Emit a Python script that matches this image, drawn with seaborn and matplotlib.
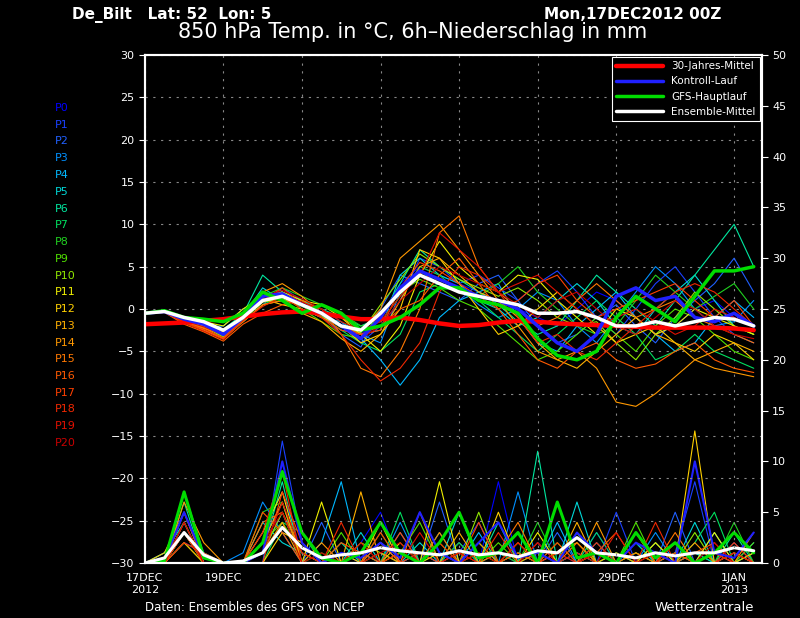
import numpy as np
import pandas as pd
import matplotlib
matplotlib.use("Agg")
import matplotlib.pyplot as plt
import seaborn as sns

# time axis: days after 17DEC2012 00Z, 12-hourly
days = [i * 0.5 for i in range(32)]

climate_temp = [-1.8, -1.7, -1.6, -1.4, -1.2, -0.9, -0.6, -0.4, -0.3, -0.5, -0.9, -1.2, -1.2, -1.0, -1.3, -1.7,
                -2.0, -1.9, -1.6, -1.4, -1.5, -1.7, -1.8, -1.9, -2.0, -2.1, -2.2, -2.2, -2.2, -2.2, -2.3, -2.5]
mean_temp = [-0.5, -0.3, -1.0, -1.5, -2.5, -1.0, 1.0, 1.5, 0.5, -0.5, -2.0, -2.5, -0.5, 2.0, 4.0, 3.0,
             2.0, 1.5, 1.0, 0.5, -0.5, -0.5, -0.3, -1.0, -2.0, -2.0, -1.5, -2.0, -1.5, -1.0, -1.2, -2.0]
gfs_temp = [-0.5, -0.2, -1.0, -1.2, -1.5, -0.5, 2.0, 1.0, -0.5, 0.5, -0.5, -2.5, -2.0, -1.0, 0.5, 2.5,
            2.5, 1.0, 0.5, -0.5, -3.5, -5.5, -6.0, -5.0, -1.0, 1.5, 0.0, -1.5, 1.5, 4.5, 4.5, 5.0]
control_temp = [-0.5, -0.3, -1.2, -1.8, -3.0, -1.0, 1.5, 1.8, 0.5, -0.5, -2.0, -3.5, -1.0, 2.5, 4.5, 3.5,
                2.5, 1.5, 1.0, 0.0, -2.0, -4.0, -5.0, -3.0, 1.5, 2.5, 1.0, 1.5, -1.0, -1.5, -0.5, -2.0]

member_temp = {
    "P0": [-0.5, -0.3, -1.5, -2.0, -3.0, -1.0, 1.5, 2.0, 0.0, -1.0, -2.0, -3.0, -1.0, 3.0, 5.0, 4.0, 3.0, 2.0, 1.0, 0.0, -1.0, -2.0, 0.0, 2.0, 1.0, -1.0, -3.0, -2.0, 0.0, 1.0, -1.0, -2.0],
    "P1": [-0.6, -0.2, -1.2, -2.5, -3.5, -0.5, 2.0, 1.0, 1.0, 0.0, -1.5, -4.0, -2.0, 1.0, 6.0, 5.0, 3.0, 4.0, 2.5, 1.0, 3.0, 4.5, 2.0, -1.0, -3.0, 0.0, 3.0, 5.0, 2.0, -1.0, -3.0, -4.0],
    "P2": [-0.4, -0.4, -1.0, -2.0, -2.5, -1.5, 0.5, 2.5, 1.0, -0.5, -3.0, -4.5, 0.0, 4.0, 3.0, 2.0, 1.0, 3.0, 4.0, 1.0, -2.0, -4.0, -3.0, -1.0, 0.5, -2.0, -4.0, -1.0, 1.0, 3.0, 6.0, 2.0],
    "P3": [-0.5, -0.1, -1.5, -2.2, -2.0, 0.0, 1.0, 2.0, 0.0, -1.0, -2.5, -3.0, -4.0, 2.0, 4.5, 3.0, 2.5, 0.5, -1.0, 0.0, 2.0, 1.0, -2.0, -4.0, -1.0, 2.0, 5.0, 3.0, 0.0, -2.0, -1.5, 1.0],
    "P4": [-0.5, -0.3, -1.3, -1.8, -2.8, -1.2, 1.0, 1.5, 0.5, -0.5, -2.0, -3.5, -6.0, -9.0, -6.0, -1.0, 1.0, 2.0, 3.0, -1.0, -4.0, -5.0, -2.0, 0.0, 2.0, -1.0, -3.0, -5.0, -4.0, -1.0, 1.0, -1.0],
    "P5": [-0.6, -0.2, -1.4, -2.0, -3.2, -0.8, 2.5, 1.0, 0.5, -1.0, -1.5, -3.0, -2.5, 4.0, 6.0, 4.0, 3.0, 1.0, 0.0, -2.0, -1.0, 1.0, 3.0, 1.0, -2.0, -3.0, 0.0, 2.0, 4.0, 1.0, -2.0, -3.0],
    "P6": [-0.5, -0.3, -1.1, -1.6, -2.4, -0.6, 4.0, 2.0, 1.0, 0.0, -1.0, -2.0, -1.0, 3.0, 7.0, 5.0, 3.5, 2.0, 0.5, -1.5, -3.0, -2.0, 1.0, 4.0, 2.0, 0.0, -2.0, 1.0, 4.0, 7.0, 10.0, 5.0],
    "P7": [-0.4, -0.3, -1.2, -1.7, -3.5, -1.5, 0.5, 1.5, 0.5, -1.0, -2.5, -4.0, -5.0, -3.0, 2.0, 3.0, 2.0, 1.0, -1.0, -3.0, -5.0, -3.0, -1.0, 1.0, -1.0, -3.0, -6.0, -5.0, -3.0, -5.0, -6.0, -7.0],
    "P8": [-0.5, -0.2, -1.3, -1.9, -3.0, -1.0, 1.5, 2.5, 1.5, 0.5, -0.5, -2.0, -1.5, 1.5, 5.0, 4.0, 2.0, 1.5, 3.0, 5.0, 2.0, 0.0, -2.0, -3.0, -2.0, 1.0, 4.0, 2.0, 0.0, 1.5, 3.0, 0.0],
    "P9": [-0.5, -0.3, -1.2, -1.8, -2.6, -1.0, 1.0, 1.5, 0.0, -1.5, -3.0, -3.5, -0.5, 2.0, 3.5, 2.5, 1.0, 0.0, -2.0, -4.0, -6.0, -5.0, -3.0, -1.0, -3.0, -5.0, -2.0, 0.0, -1.0, -3.0, -5.0, -6.0],
    "P10": [-0.6, -0.3, -1.4, -2.1, -3.3, -1.3, 0.8, 1.2, 0.3, -0.8, -2.2, -2.8, 0.5, 3.5, 6.5, 5.0, 3.5, 2.5, 1.5, 2.5, 1.0, -1.0, -2.0, -1.5, -4.0, -6.0, -3.0, -1.0, 2.0, 0.0, -2.0, -3.0],
    "P11": [-0.5, -0.2, -1.0, -1.5, -2.0, 0.0, 1.5, 2.0, 1.0, 0.5, -1.0, -3.0, -5.0, -2.0, 4.0, 8.0, 5.0, 3.0, 2.0, 4.0, 3.5, 1.0, -1.0, -3.0, 0.0, -1.0, -3.0, -2.0, 0.0, -1.0, -2.0, -3.0],
    "P12": [-0.5, -0.4, -1.3, -2.0, -2.7, -1.0, 1.2, 0.5, 0.0, -1.0, -2.0, -4.0, -3.0, 0.0, 7.0, 6.0, 3.0, 0.0, -3.0, -2.0, 0.0, 2.0, 0.0, -2.0, -4.0, -3.0, -2.0, -4.0, -5.0, -3.0, -4.0, -6.0],
    "P13": [-0.5, -0.3, -1.5, -2.3, -3.0, -1.5, 0.5, 1.0, -0.5, -1.5, -3.5, -5.0, -3.0, 1.0, 5.0, 6.0, 4.0, 2.0, 1.0, -1.0, -4.0, -6.0, -7.0, -5.0, -3.0, -1.0, -3.0, -4.0, -6.0, -5.0, -4.0, -5.0],
    "P14": [-0.6, -0.3, -1.6, -2.5, -3.5, -0.5, 2.0, 3.0, 1.5, -0.5, -1.0, -2.5, 0.0, 6.0, 8.0, 10.0, 7.0, 4.0, 1.0, -2.0, -5.0, -6.0, -5.0, -7.0, -11.0, -11.5, -10.0, -8.0, -6.0, -7.0, -7.5, -8.0],
    "P15": [-0.5, -0.3, -1.4, -2.2, -3.5, -1.5, 0.5, 1.0, 0.5, 0.0, -3.0, -7.0, -8.0, -5.0, 0.0, 9.0, 11.0, 5.0, 2.0, 0.0, -2.0, -1.0, 1.0, 3.0, 1.0, -1.0, 0.0, 1.0, -1.0, -2.0, -3.0, -4.0],
    "P16": [-0.5, -0.4, -1.8, -2.7, -3.8, -1.8, -0.5, 0.5, 1.0, -0.5, -2.0, -3.0, -2.0, 0.0, 1.0, 4.0, 6.0, 3.0, 0.0, -3.0, -6.0, -7.0, -5.0, -4.0, -6.0, -7.0, -6.5, -5.0, -4.0, -6.0, -7.0, -7.5],
    "P17": [-0.5, -0.3, -1.5, -2.4, -3.4, -1.2, 1.0, 2.5, 0.5, -1.0, -2.5, -3.0, -2.5, 2.5, 5.5, 4.5, 3.0, 1.5, 0.0, 1.0, 3.0, 4.0, 1.0, -1.0, 0.0, 1.0, 2.0, 3.0, 1.0, -1.0, 1.0, -2.0],
    "P18": [-0.6, -0.4, -1.6, -2.6, -3.6, -1.4, 0.3, 1.5, 0.0, -1.0, -3.0, -6.0, -8.5, -7.0, -4.0, 2.0, 5.0, 4.0, 2.0, -1.0, -4.0, -3.0, -5.0, -6.0, -4.0, -2.0, 0.0, 2.0, 3.0, 2.0, 0.0, -2.0],
    "P19": [-0.5, -0.3, -1.4, -2.1, -3.1, -1.1, 1.1, 1.8, 0.8, 0.0, -1.5, -2.5, -1.5, 1.5, 4.0, 9.0, 7.0, 5.0, 2.0, 3.0, 4.0, 2.0, 0.0, -2.0, -1.0, 0.0, -1.5, -3.0, -2.0, 0.0, -1.0, -2.0],
    "P20": [-0.5, -0.2, -1.2, -1.9, -2.9, -0.9, 1.4, 2.2, 1.2, 0.0, -2.0, -3.5, -2.0, 1.0, 3.0, 5.0, 4.0, 3.0, 2.0, 0.5, -1.0, 1.0, 2.0, 0.0, -2.0, -3.0, -1.0, 1.0, 0.0, -2.0, -3.0, -3.5],
}

mean_prec = [0.0, 0.5, 3.0, 0.8, 0.0, 0.2, 1.0, 3.5, 1.5, 0.5, 0.8, 1.0, 1.5, 1.2, 1.0, 0.8,
             1.2, 0.8, 1.0, 0.6, 1.2, 1.0, 2.5, 1.0, 0.8, 0.5, 1.0, 0.7, 1.0, 1.0, 1.5, 1.2]
gfs_prec = [0.0, 0.2, 7.0, 0.5, 0.0, 0.0, 2.0, 9.0, 3.0, 0.5, 0.0, 1.0, 4.0, 1.0, 0.0, 2.0,
            5.0, 0.5, 1.0, 3.0, 0.0, 6.0, 0.5, 1.0, 0.0, 3.0, 0.5, 2.0, 0.0, 1.0, 3.0, 1.0]
control_prec = [0.0, 0.3, 5.0, 0.5, 0.0, 0.0, 1.0, 10.0, 2.0, 0.0, 1.0, 0.5, 2.0, 0.5, 5.0, 1.0,
                0.0, 2.0, 4.0, 0.5, 1.0, 0.0, 3.0, 1.0, 0.0, 2.0, 1.0, 0.0, 10.0, 1.0, 0.5, 3.0]
member_prec = {
    "P0": [0, 0, 4, 0, 0, 0, 3, 7, 1, 0, 0, 2, 5, 0, 1, 0, 2, 0, 8, 0, 0, 1, 0, 3, 0, 0, 2, 0, 0, 1, 0, 0],
    "P1": [0, 1, 3, 0, 0, 0, 0, 12, 2, 0, 1, 0, 0, 3, 0, 0, 1, 4, 0, 0, 2, 0, 0, 0, 5, 0, 0, 1, 8, 0, 2, 0],
    "P2": [0, 0, 2, 1, 0, 0, 1, 5, 0, 4, 0, 0, 2, 0, 0, 6, 0, 0, 1, 0, 0, 3, 0, 0, 0, 2, 0, 5, 0, 0, 1, 0],
    "P3": [0, 0, 5, 0, 0, 1, 6, 3, 0, 0, 0, 1, 0, 4, 0, 0, 2, 0, 0, 7, 0, 0, 1, 0, 0, 0, 3, 0, 1, 0, 0, 2],
    "P4": [0, 0, 3, 0, 0, 0, 2, 6, 0, 2, 8, 0, 0, 0, 1, 0, 0, 3, 0, 0, 0, 4, 0, 2, 0, 0, 0, 1, 0, 3, 0, 0],
    "P5": [0, 1, 4, 0, 0, 0, 4, 2, 1, 0, 0, 3, 0, 0, 2, 0, 5, 0, 0, 1, 0, 0, 6, 0, 1, 0, 0, 0, 4, 0, 0, 1],
    "P6": [0, 0, 6, 0, 0, 0, 1, 8, 0, 0, 2, 0, 1, 0, 0, 3, 0, 0, 4, 0, 11, 0, 1, 0, 0, 2, 0, 0, 1, 0, 3, 0],
    "P7": [0, 0, 7, 1, 0, 0, 0, 4, 3, 0, 0, 1, 0, 5, 0, 1, 0, 2, 0, 0, 1, 0, 0, 3, 0, 1, 0, 0, 2, 5, 0, 1],
    "P8": [0, 0, 3, 0, 0, 0, 5, 6, 0, 1, 0, 0, 3, 0, 0, 0, 2, 0, 1, 0, 4, 0, 0, 0, 1, 0, 2, 0, 0, 0, 4, 0],
    "P9": [0, 0, 2, 0, 0, 0, 2, 4, 1, 0, 3, 0, 0, 1, 4, 0, 0, 0, 2, 0, 0, 2, 0, 1, 0, 4, 0, 1, 0, 0, 0, 2],
    "P10": [0, 0, 4, 0, 0, 0, 1, 5, 0, 0, 0, 2, 1, 0, 0, 2, 0, 5, 0, 1, 0, 0, 3, 0, 0, 1, 0, 0, 3, 0, 1, 0],
    "P11": [0, 0, 3, 0, 0, 0, 3, 7, 0, 6, 0, 0, 0, 2, 0, 8, 0, 1, 0, 0, 3, 0, 0, 1, 0, 0, 2, 0, 0, 3, 0, 0],
    "P12": [0, 1, 5, 0, 0, 0, 0, 3, 2, 0, 1, 0, 4, 0, 0, 1, 0, 0, 5, 0, 0, 1, 2, 0, 0, 3, 0, 0, 13, 0, 0, 1],
    "P13": [0, 0, 2, 0, 0, 0, 2, 6, 0, 0, 0, 7, 0, 1, 0, 0, 3, 0, 0, 2, 0, 0, 4, 0, 1, 0, 0, 2, 0, 1, 0, 0],
    "P14": [0, 0, 6, 2, 0, 0, 1, 4, 0, 2, 0, 0, 1, 0, 5, 0, 0, 2, 0, 0, 1, 0, 0, 4, 0, 0, 1, 0, 2, 0, 0, 3],
    "P15": [0, 0, 3, 0, 0, 0, 4, 5, 1, 0, 0, 0, 2, 0, 0, 3, 0, 0, 1, 4, 0, 0, 2, 0, 0, 1, 0, 3, 0, 0, 1, 0],
    "P16": [0, 0, 4, 0, 0, 0, 5, 3, 0, 0, 2, 1, 0, 3, 0, 0, 1, 0, 0, 0, 2, 0, 0, 1, 3, 0, 0, 0, 1, 2, 0, 0],
    "P17": [0, 0, 5, 0, 0, 0, 0, 7, 2, 0, 0, 0, 3, 0, 1, 0, 0, 4, 0, 1, 0, 2, 0, 0, 0, 3, 0, 1, 0, 0, 2, 0],
    "P18": [0, 0, 2, 1, 0, 0, 3, 9, 0, 0, 4, 0, 0, 1, 0, 2, 0, 0, 3, 0, 0, 1, 0, 2, 0, 0, 4, 0, 0, 1, 0, 0],
    "P19": [0, 0, 3, 0, 0, 0, 1, 6, 1, 0, 0, 2, 0, 0, 3, 0, 1, 0, 0, 2, 0, 0, 1, 0, 3, 0, 0, 2, 0, 0, 1, 0],
    "P20": [0, 0, 4, 0, 0, 0, 2, 5, 0, 1, 0, 0, 1, 2, 0, 0, 0, 1, 0, 0, 2, 0, 0, 1, 0, 0, 1, 0, 0, 2, 0, 0],
}

member_colors = ["#0000ff", "#1a40ff", "#2060ff", "#0090ff", "#00b8ff", "#00d8d8", "#00e8a0", "#00e060",
                 "#20d020", "#50e000", "#90e800", "#f0f000", "#ffd000", "#ffb000", "#ff9800", "#ff7800",
                 "#ff5a00", "#ff4000", "#f02800", "#e01000", "#c80000"]

tick_days = [0, 2, 4, 6, 8, 10, 12, 15]
tick_labels = ["17DEC\n2012", "19DEC", "21DEC", "23DEC", "25DEC", "27DEC", "29DEC", "1JAN\n2013"]

sns.set_style("dark")
plt.rcParams["font.family"] = ["DejaVu Sans"]

fig = plt.figure(figsize=(8, 6.18), dpi=100, facecolor="black")
ax = fig.add_axes([0.181, 0.089, 0.771, 0.822], facecolor="black")
ax2 = ax.twinx()

for (name, vals), col in zip(member_prec.items(), member_colors):
    sns.lineplot(x=days, y=vals, ax=ax2, color=col, lw=0.8)
sns.lineplot(x=days, y=control_prec, ax=ax2, color="#2020ff", lw=1.5)
sns.lineplot(x=days, y=gfs_prec, ax=ax2, color="#00dd00", lw=2.2)
sns.lineplot(x=days, y=mean_prec, ax=ax2, color="white", lw=2.2)

for (name, vals), col in zip(member_temp.items(), member_colors):
    sns.lineplot(x=days, y=vals, ax=ax, color=col, lw=0.8)
sns.lineplot(x=days, y=climate_temp, ax=ax, color="#ff0000", lw=3.2, label="30-Jahres-Mittel")
sns.lineplot(x=days, y=control_temp, ax=ax, color="#2020ff", lw=2.5, label="Kontroll-Lauf")
sns.lineplot(x=days, y=gfs_temp, ax=ax, color="#00dd00", lw=2.5, label="GFS-Hauptlauf")
sns.lineplot(x=days, y=mean_temp, ax=ax, color="white", lw=2.5, label="Ensemble-Mittel")

ax.set_zorder(ax2.get_zorder() + 1)
ax.patch.set_visible(False)
ax2.set_facecolor("black")

ax.set_xlim(0, 15.7)
ax.set_ylim(-30, 30)
ax2.set_ylim(0, 50)
ax.set_yticks(range(-30, 31, 5))
ax2.set_yticks(range(0, 51, 5))
ax.set_xticks(tick_days)
ax.set_xticklabels(tick_labels)
ax.set_xticks(np.arange(0, 16, 1), minor=True)
for a in (ax, ax2):
    a.tick_params(colors="white", labelsize=8, length=4, direction="out")
    a.tick_params(which="minor", colors="white", length=2)
    for s in a.spines.values():
        s.set_color("white")
        s.set_linewidth(1.5)
ax.grid(True, color="#888888", linestyle=(0, (2, 5)), lw=0.8)
ax2.grid(False)
ax.set_xlabel("")
ax.set_ylabel("")
ax2.set_ylabel("")

leg = ax.legend(loc="upper right", fontsize=7.5, facecolor="black", edgecolor="white",
                labelcolor="white", fancybox=False, framealpha=1, handlelength=4.5,
                borderaxespad=0.2)
leg.get_frame().set_linewidth(0.8)

for i, (name, col) in enumerate(zip(member_temp.keys(), member_colors)):
    fig.text(0.068, 1 - (108 + i * 16.75) / 618, name, color=col, fontsize=8, va="center")

fig.text(0.09, 0.976, "De_Bilt   Lat: 52  Lon: 5", color="white", fontsize=11, va="center", fontweight="bold")
fig.text(0.68, 0.976, "Mon,17DEC2012 00Z", color="white", fontsize=11, va="center", fontweight="bold")
fig.text(0.222, 0.948, "850 hPa Temp. in °C, 6h\u2013Niederschlag in mm", color="white", fontsize=15, va="center")
fig.text(0.181, 0.017, "Daten: Ensembles des GFS von NCEP", color="white", fontsize=8.5, va="center")
fig.text(0.818, 0.017, "Wetterzentrale", color="white", fontsize=9.5, va="center")

fig.savefig("out.png", dpi=100, facecolor="black")
